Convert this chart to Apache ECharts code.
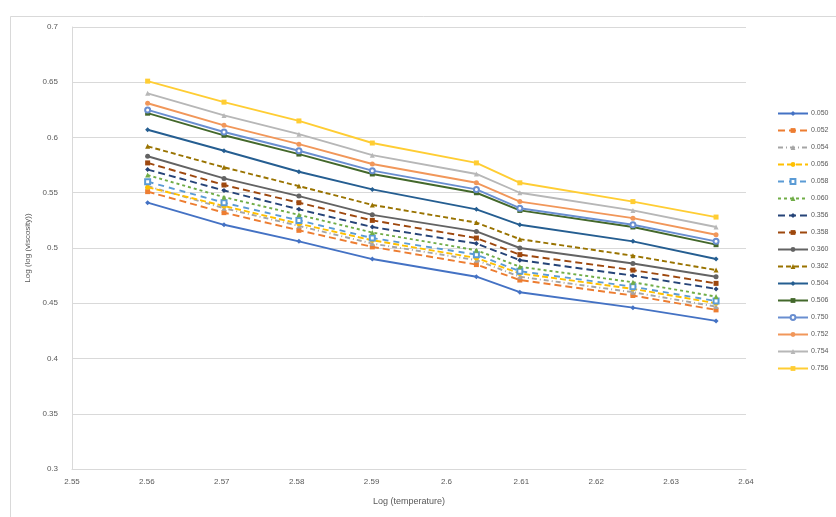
<!DOCTYPE html>
<html>
<head>
<meta charset="utf-8">
<script src="https://cdn.jsdelivr.net/npm/echarts@6/dist/echarts.min.js"></script>
<style>
  html, body { margin: 0; padding: 0; background: #ffffff; }
  #chart { width: 836px; height: 517px; }
</style>
</head>
<body>
<div id="chart"></div>
<script>
// Log(temperature) at which each viscosity was measured
const logTemperature = [2.5601, 2.5703, 2.5803, 2.5901, 2.6040, 2.6098, 2.6249, 2.6360];

// One curve per concentration (legend order)
const seriesNames = ['0.050', '0.052', '0.054', '0.056', '0.058', '0.060', '0.356', '0.358',
                     '0.360', '0.362', '0.504', '0.506', '0.750', '0.752', '0.754', '0.756'];

const c0050 = [0.541, 0.521, 0.506, 0.490, 0.474, 0.460, 0.446, 0.434];
const c0052 = [0.551, 0.532, 0.516, 0.501, 0.485, 0.471, 0.457, 0.444];
const c0054 = [0.556, 0.536, 0.520, 0.504, 0.489, 0.474, 0.460, 0.447];
const c0056 = [0.555, 0.538, 0.522, 0.507, 0.491, 0.477, 0.463, 0.450];
const c0058 = [0.560, 0.541, 0.525, 0.509, 0.494, 0.479, 0.465, 0.452];
const c0060 = [0.566, 0.546, 0.530, 0.514, 0.498, 0.483, 0.469, 0.456];
const c0356 = [0.571, 0.552, 0.535, 0.519, 0.504, 0.489, 0.475, 0.463];
const c0358 = [0.577, 0.557, 0.541, 0.525, 0.509, 0.494, 0.480, 0.468];
const c0360 = [0.583, 0.563, 0.547, 0.530, 0.515, 0.500, 0.486, 0.474];
const c0362 = [0.592, 0.573, 0.556, 0.539, 0.523, 0.508, 0.493, 0.480];
const c0504 = [0.607, 0.588, 0.569, 0.553, 0.535, 0.521, 0.506, 0.490];
const c0506 = [0.622, 0.602, 0.585, 0.567, 0.550, 0.534, 0.519, 0.503];
const c0750 = [0.625, 0.605, 0.588, 0.570, 0.553, 0.536, 0.521, 0.506];
const c0752 = [0.631, 0.611, 0.594, 0.576, 0.559, 0.542, 0.527, 0.512];
const c0754 = [0.640, 0.620, 0.603, 0.584, 0.567, 0.550, 0.534, 0.519];
const c0756 = [0.651, 0.632, 0.615, 0.595, 0.577, 0.559, 0.542, 0.528];

const seriesValues = [c0050, c0052, c0054, c0056, c0058, c0060, c0356, c0358,
                      c0360, c0362, c0504, c0506, c0750, c0752, c0754, c0756];

// Axis ticks
const xTicks = [2.55, 2.56, 2.57, 2.58, 2.59, 2.6, 2.61, 2.62, 2.63, 2.64];
const yTicks = [0.3, 0.35, 0.4, 0.45, 0.5, 0.55, 0.6, 0.65, 0.7];

// Office-style palette, line dashes and markers
const colors = ['#4472C4', '#ED7D31', '#A5A5A5', '#FFC000', '#5B9BD5', '#70AD47', '#264478', '#9E480E',
                '#636363', '#997300', '#255E91', '#43682B', '#698ED0', '#F1975A', '#B7B7B7', '#FFCD33'];
const dashes = ['solid', [7, 4], [5, 3, 1, 3], [6, 3], [6, 5], [3, 3], [7, 4], [7, 4],
                'solid', [5, 3], 'solid', 'solid', 'solid', 'solid', 'solid', 'solid'];
const symbols = ['diamond', 'rect', 'triangle', 'circle', 'emptyRect', 'triangle', 'diamond', 'rect',
                 'circle', 'triangle', 'diamond', 'rect', 'emptyCircle', 'circle', 'triangle', 'rect'];

const chart = echarts.init(document.getElementById('chart'), null, { renderer: 'canvas' });

const series = seriesNames.map((name, i) => ({
  name: name,
  type: 'line',
  data: logTemperature.map((x, j) => [x, seriesValues[i][j]]),
  symbol: symbols[i],
  symbolSize: 5,
  showSymbol: true,
  color: colors[i],
  lineStyle: { color: colors[i], width: 1.9, type: dashes[i] },
  itemStyle: { color: colors[i] },
  animation: false
}));

chart.setOption({
  animation: false,
  backgroundColor: '#ffffff',
  graphic: [{
    type: 'rect',
    left: 8, top: 14,
    shape: { width: 840, height: 520 },
    style: { fill: 'none', stroke: '#d9d9d9', lineWidth: 1 },
    silent: true
  }],
  grid: { left: 72, right: 90, top: 27, bottom: 48, containLabel: false },
  xAxis: {
    type: 'value',
    min: xTicks[0],
    max: xTicks[xTicks.length - 1],
    interval: 0.01,
    name: 'Log (temperature)',
    nameLocation: 'middle',
    nameGap: 28,
    nameTextStyle: { color: '#595959', fontSize: 9, fontFamily: 'Liberation Sans' },
    axisLine: { show: true, lineStyle: { color: '#d9d9d9' } },
    axisTick: { show: false },
    splitLine: { show: false },
    axisLabel: {
      color: '#595959', fontSize: 8, fontFamily: 'Liberation Sans', margin: 9,
      formatter: v => String(parseFloat(v.toFixed(2)))
    }
  },
  yAxis: {
    type: 'value',
    min: yTicks[0],
    max: yTicks[yTicks.length - 1],
    interval: 0.05,
    name: 'Log (log (viscosity))',
    nameLocation: 'middle',
    nameGap: 38,
    nameTextStyle: { color: '#595959', fontSize: 8, fontFamily: 'Liberation Sans' },
    axisLine: { show: true, lineStyle: { color: '#d9d9d9' } },
    axisTick: { show: false },
    splitLine: { show: true, lineStyle: { color: '#d9d9d9', width: 1 } },
    axisLabel: {
      color: '#595959', fontSize: 8, fontFamily: 'Liberation Sans', margin: 14,
      formatter: v => String(parseFloat(v.toFixed(2)))
    }
  },
  legend: {
    orient: 'vertical',
    left: 772,
    top: 105,
    itemWidth: 30,
    itemHeight: 6,
    itemGap: 10,
    textStyle: { color: '#595959', fontSize: 7, fontFamily: 'Liberation Sans', padding: [0, 0, 0, -2] },
    data: seriesNames
  },
  series: series
});
</script>
</body>
</html>
